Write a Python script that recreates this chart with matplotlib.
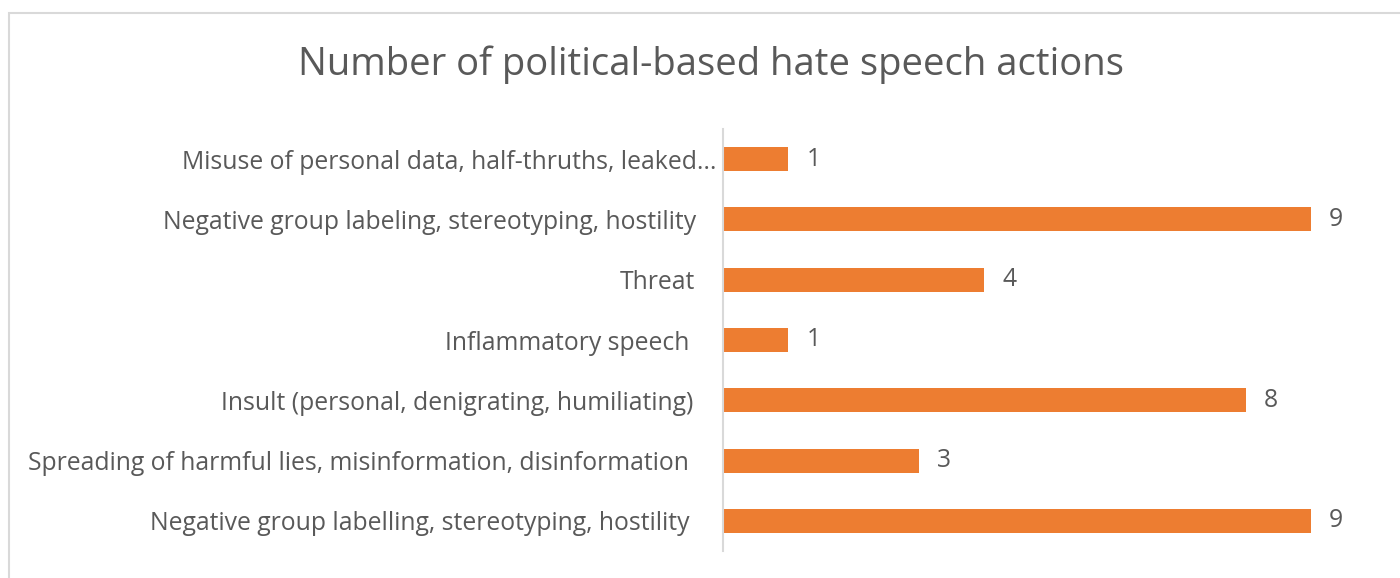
import matplotlib.pyplot as plt
from matplotlib.patches import Rectangle

plt.rcParams["font.family"] = ["Open Sans", "DejaVu Sans"]

categories = [
    "Misuse of personal data, half-thruths, leaked...",
    "Negative group labeling, stereotyping, hostility",
    "Threat",
    "Inflammatory speech",
    "Insult (personal, denigrating, humiliating)",
    "Spreading of harmful lies, misinformation, disinformation",
    "Negative group labelling, stereotyping, hostility",
]
counts = [1, 9, 4, 1, 8, 3, 9]

title = "Number of political-based hate speech actions"
bar_color = "#ED7D31"
text_color = "#595959"

fig = plt.figure(figsize=(14, 5.78), dpi=100)
fig.patches.append(Rectangle((9 / 1400, -0.05), 1.2, 1 - 13 / 578 + 0.05,
                             transform=fig.transFigure, fill=False,
                             edgecolor="#D9D9D9", linewidth=1.5))

ax = fig.add_axes([723 / 1400, 1 - 551 / 578, 588 / 1400, 422 / 578])
y = list(range(len(categories)))
ax.barh(y, counts, height=0.4, color=bar_color)
ax.set_xlim(0, 9)
ax.set_ylim(len(categories) - 0.5, -0.5)
ax.set_yticks(y)
ax.set_yticklabels(categories, fontsize=17.8, color=text_color)
ax.tick_params(axis="y", length=0)
# excel places the labels a little unevenly
label_pads = [5, 19, 20, 24.5, 21.5, 24.5, 24]
for tick, pad in zip(ax.yaxis.get_major_ticks(), label_pads):
    tick.set_pad(pad)
ax.set_xticks([])
for side in ["top", "right", "bottom"]:
    ax.spines[side].set_visible(False)
ax.spines["left"].set_color("#D9D9D9")
ax.spines["left"].set_linewidth(1.5)

for yi, v in zip(y, counts):
    ax.annotate(str(v), (v, yi), xytext=(13, 0), textcoords="offset points",
                va="center", ha="left", fontsize=17.8, color=text_color,
                annotation_clip=False)

fig.text(711 / 1400, 1 - 65 / 578, title, ha="center", va="center",
         fontsize=27.5, color=text_color)

fig.savefig("out.png", dpi=100)
